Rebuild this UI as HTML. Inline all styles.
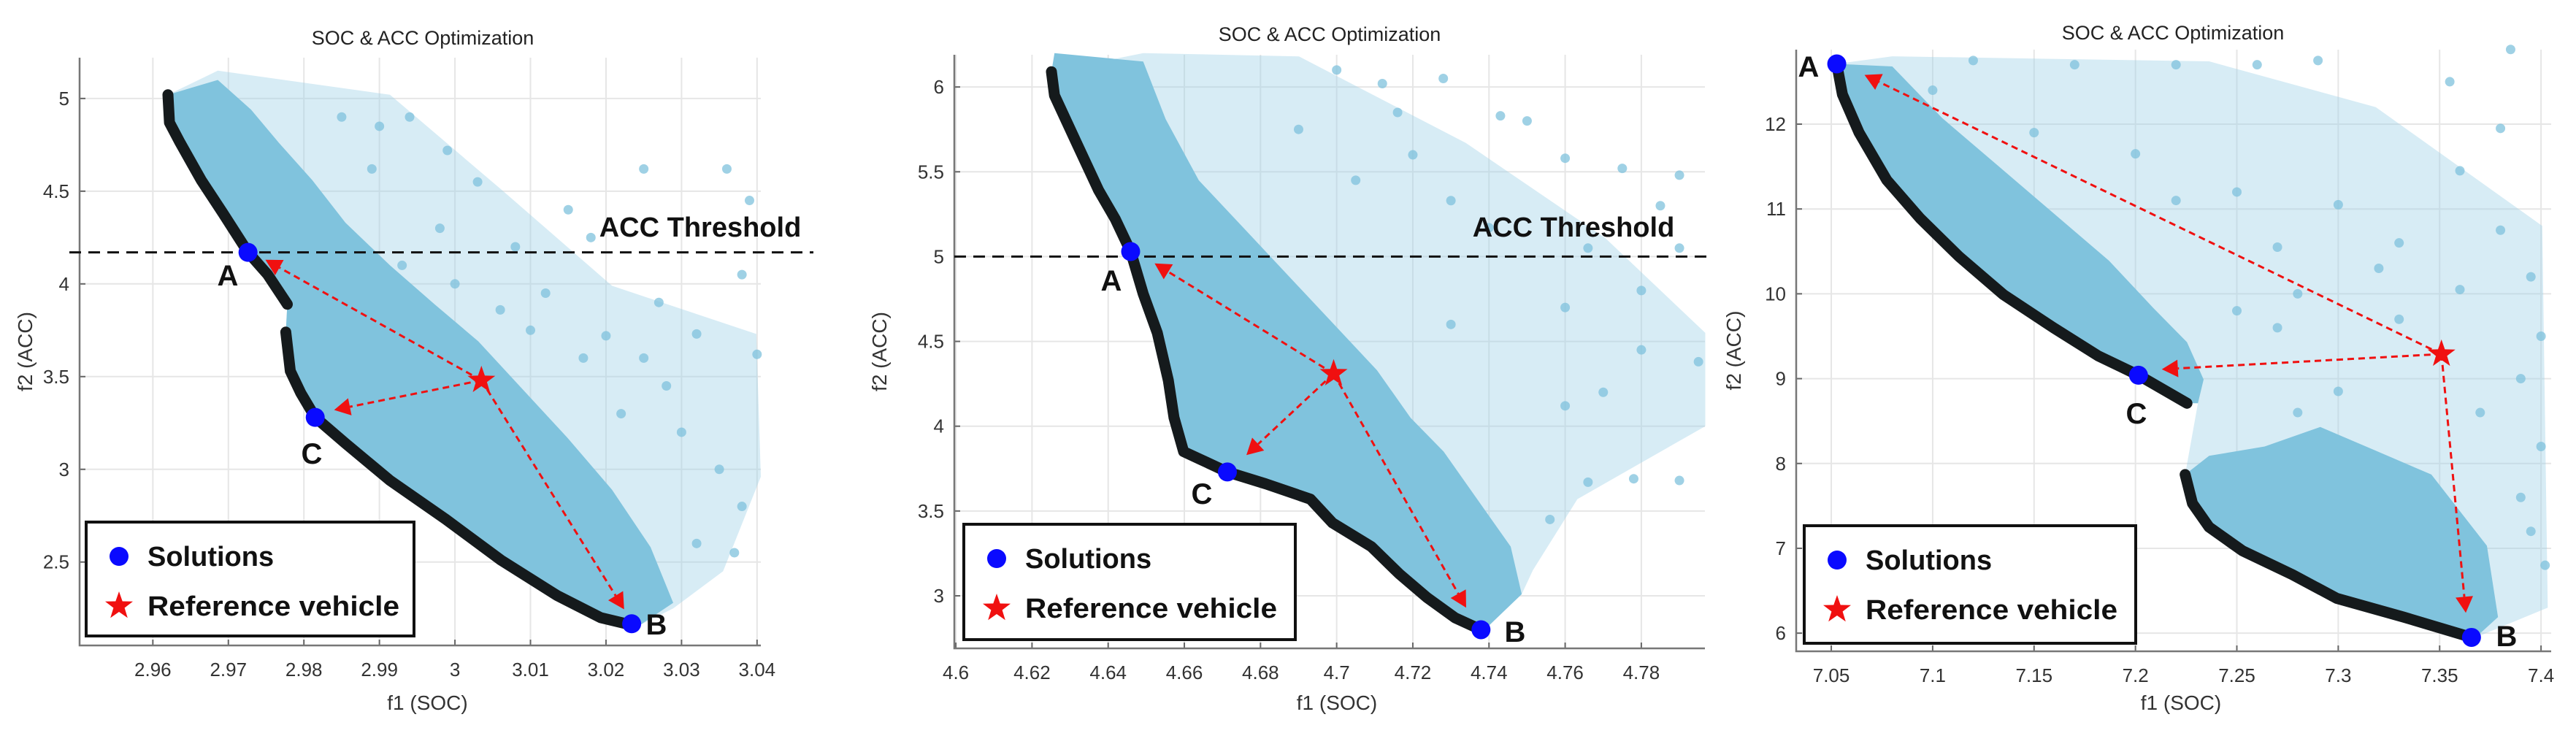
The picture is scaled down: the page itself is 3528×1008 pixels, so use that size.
<!DOCTYPE html>
<html><head><meta charset="utf-8">
<style>
html,body{margin:0;padding:0;background:#fff;}
svg{display:block;font-family:"Liberation Sans",sans-serif;}
</style></head>
<body>
<svg id="fig" width="3528" height="1008" viewBox="0 0 3528 1008" xmlns="http://www.w3.org/2000/svg"></svg>
<script>
// ---------- Panel 1 data ----------
const p1XTicks=[2.96,2.97,2.98,2.99,3,3.01,3.02,3.03,3.04];
const p1YTicks=[2.5,3,3.5,4,4.5,5];
const p1Front1=[[2.962,5.02],[2.9622,4.87],[2.9635,4.77],[2.9664,4.56],[2.9693,4.38],[2.9726,4.17],[2.9752,4.05],[2.9778,3.89]];
const p1Front2=[[2.9776,3.74],[2.9782,3.53],[2.9796,3.41],[2.9815,3.28],[2.9855,3.14],[2.9914,2.94],[2.9988,2.73],[3.0061,2.51],[3.0135,2.32],[3.0193,2.2],[3.0234,2.16]];
const p1DenseTop=[[2.962,5.02],[2.9686,5.10],[2.973,4.94],[2.9767,4.76],[2.9811,4.56],[2.9855,4.33],[2.9914,4.10],[2.9973,3.89],[3.0031,3.69],[3.009,3.43],[3.0149,3.17],[3.0208,2.89],[3.0259,2.58],[3.0289,2.28],[3.0245,2.16]];
const p1LightTop=[[2.962,5.02],[2.9686,5.15],[2.9914,5.02],[3.0061,4.51],[3.0208,3.99],[3.0399,3.73],[3.0405,2.96],[3.0355,2.45],[3.0289,2.25],[3.0245,2.16]];
const p1Sparse=[[2.99,4.85],[2.994,4.9],[2.999,4.72],[2.989,4.62],[3.003,4.55],[3.008,4.2],[3.015,4.4],[3.018,4.25],[3.025,4.62],[3.036,4.62],[3.039,4.45],[3.038,4.05],[3.04,3.62],[3.032,3.73],[3.025,3.6],[3.02,3.72],[3.012,3.95],[3.006,3.86],[3.03,3.2],[3.035,3.0],[3.038,2.8],[3.032,2.6],[3.037,2.55],[3.028,3.45],[3.022,3.3],[3.017,3.6],[3.01,3.75],[2.998,4.3],[2.985,4.9],[2.993,4.1],[3.0,4.0],[3.027,3.9]];
const p1Sol=[[2.9726,4.17,"A"],[3.0234,2.167,"B"],[2.9815,3.28,"C"]];
const p1Star=[3.0035,3.48];
const p1Heads=[[2.9749,4.13],[3.0224,2.245],[2.984,3.32]];
const p1Threshold=4.17;
// ---------- Panel 2 data ----------
const p2XTicks=[4.6,4.62,4.64,4.66,4.68,4.7,4.72,4.74,4.76,4.78];
const p2YTicks=[3,3.5,4,4.5,5,5.5,6];
const p2Front1=[[4.6251,6.09],[4.6259,5.95],[4.6317,5.67],[4.6375,5.39],[4.6419,5.22],[4.6459,5.03],[4.6492,4.78],[4.6529,4.55],[4.6558,4.27],[4.6573,4.05],[4.6598,3.85],[4.6713,3.73],[4.6814,3.66],[4.6931,3.57],[4.6989,3.43],[4.7091,3.29],[4.7164,3.13],[4.7237,2.99],[4.7311,2.87],[4.7379,2.80]];
const p2DenseTop=[[4.6251,6.09],[4.6259,6.20],[4.6492,6.15],[4.6551,5.81],[4.6638,5.45],[4.6755,5.17],[4.6872,4.89],[4.6989,4.61],[4.7106,4.33],[4.7194,4.05],[4.7281,3.85],[4.7369,3.57],[4.7457,3.29],[4.7486,3.01],[4.7398,2.82]];
const p2LightTop=[[4.6251,6.09],[4.6492,6.2],[4.6901,6.18],[4.7339,5.67],[4.7705,5.11],[4.7968,4.55],[4.7968,4.0],[4.7632,3.57],[4.7515,3.15],[4.7486,3.01],[4.7398,2.82]];
const p2Sparse=[[4.7,6.1],[4.712,6.02],[4.728,6.05],[4.716,5.85],[4.743,5.83],[4.75,5.8],[4.76,5.58],[4.775,5.52],[4.79,5.48],[4.785,5.3],[4.73,5.33],[4.74,5.17],[4.766,5.05],[4.79,5.05],[4.78,4.8],[4.795,4.38],[4.78,4.45],[4.77,4.2],[4.76,4.12],[4.79,3.68],[4.778,3.69],[4.766,3.67],[4.756,3.45],[4.72,5.6],[4.705,5.45],[4.69,5.75],[4.73,4.6],[4.76,4.7]];
const p2Sol=[[4.6459,5.03,"A"],[4.7379,2.80,"B"],[4.6713,3.73,"C"]];
const p2Star=[4.6992,4.31];
const p2Heads=[[4.6522,4.96],[4.734,2.93],[4.6763,3.83]];
const p2Threshold=5.0;
// ---------- Panel 3 data ----------
const p3XTicks=[7.05,7.1,7.15,7.2,7.25,7.3,7.35,7.4];
const p3YTicks=[6,7,8,9,10,11,12];
const p3Front1=[[7.0527,12.71],[7.0555,12.35],[7.0637,11.90],[7.0774,11.34],[7.0938,10.89],[7.113,10.44],[7.1349,9.99],[7.1596,9.60],[7.1815,9.27],[7.2015,9.04],[7.2254,8.71]];
const p3Front2=[[7.2245,7.87],[7.2281,7.53],[7.2363,7.25],[7.2528,6.97],[7.2774,6.69],[7.2993,6.41],[7.3322,6.19],[7.3657,5.95]];
const p3DenseTop=[[7.0527,12.71],[7.0801,12.68],[7.1048,12.07],[7.1322,11.51],[7.1596,10.95],[7.187,10.39],[7.2089,9.83],[7.2254,9.43],[7.2336,8.99],[7.2308,8.71],[7.2254,8.71]];
const p3Dense2Top=[[7.2245,7.87],[7.2363,8.09],[7.2637,8.20],[7.2911,8.43],[7.3185,8.15],[7.3459,7.87],[7.3733,7.03],[7.3788,6.19],[7.3678,5.95]];
const p3LightTop=[[7.0527,12.71],[7.0801,12.8],[7.2363,12.74],[7.3185,12.2],[7.4006,10.8],[7.4033,6.3],[7.3678,5.95]];
const p3Sparse=[[7.12,12.75],[7.17,12.7],[7.22,12.7],[7.26,12.7],[7.29,12.75],[7.385,12.88],[7.355,12.5],[7.38,11.95],[7.36,11.45],[7.3,11.05],[7.33,10.6],[7.27,10.55],[7.25,11.2],[7.2,11.65],[7.22,11.1],[7.28,10.0],[7.32,10.3],[7.38,10.75],[7.395,10.2],[7.4,9.5],[7.39,9.0],[7.37,8.6],[7.4,8.2],[7.39,7.6],[7.3,8.85],[7.27,9.6],[7.25,9.8],[7.33,9.7],[7.36,10.05],[7.15,11.9],[7.1,12.4],[7.395,7.2],[7.402,6.8],[7.28,8.6]];
const p3Sol=[[7.0527,12.71,"A"],[7.3657,5.95,"B"],[7.2015,9.04,"C"]];
const p3Star=[7.3509,9.29];
const p3Heads=[[7.0664,12.58],[7.3629,6.24],[7.213,9.11]];
const p3Threshold=null;

const NS="http://www.w3.org/2000/svg";
const svg=document.getElementById('fig');
function mk(tag,attrs,parent){const e=document.createElementNS(NS,tag);for(const k in attrs)e.setAttribute(k,attrs[k]);(parent||svg).appendChild(e);return e;}
function starPts(cx,cy,R,r){let s=[];for(let i=0;i<10;i++){const a=-Math.PI/2+i*Math.PI/5;const rr=i%2?r:R;s.push((cx+rr*Math.cos(a)).toFixed(1)+","+(cy+rr*Math.sin(a)).toFixed(1));}return s.join(" ");}

const p1Full=p1Front1.concat(p1Front2);
const p3Full=p3Front1.concat([[7.2308,8.71]],p3Front2);
const panels=[
 {id:1,L:109,R:1042,T:79,B:884,x0:2.9503,x1:3.0405,y0:2.05,y1:5.22,xt:p1XTicks,yt:p1YTicks,fronts:[p1Front1,p1Front2],dense:[[p1DenseTop,p1Full]],light:[p1LightTop,p1Full],sparse:p1Sparse,sol:p1Sol,star:p1Star,heads:p1Heads,thr:p1Threshold,thrX:[95,1114],thrText:[959,310],title:[579,52],ylab:34,leg:[118,715,567,871],labels:{A:[312,377],B:[899,855],C:[427,621]}},
 {id:2,L:1307,R:2335,T:75,B:888,x0:4.5996,x1:4.7967,y0:2.69,y1:6.19,xt:p2XTicks,yt:p2YTicks,fronts:[p2Front1],dense:[[p2DenseTop,p2Front1]],light:[p2LightTop,p2Front1],sparse:p2Sparse,sol:p2Sol,star:p2Star,heads:p2Heads,thr:p2Threshold,thrX:[1307,2339],thrText:[2155,310],title:[1821,47],ylab:1204,leg:[1320,718,1774,876],labels:{A:[1522,384],B:[2075,865],C:[1646,676]}},
 {id:3,L:2460,R:3494,T:68,B:892,x0:7.0327,x1:7.405,y0:5.786,y1:12.878,xt:p3XTicks,yt:p3YTicks,fronts:[p3Front1,p3Front2],dense:[[p3DenseTop,p3Front1],[p3Dense2Top,p3Front2]],light:[p3LightTop,p3Full],sparse:p3Sparse,sol:p3Sol,star:p3Star,heads:p3Heads,thr:p3Threshold,title:[2976,45],ylab:2374,leg:[2471,720,2925,881],labels:{A:[2477,91],B:[3433,871],C:[2926,566]}}
];

panels.forEach(p=>{
 const sx=v=>p.L+(v-p.x0)/(p.x1-p.x0)*(p.R-p.L);
 const sy=v=>p.B-(v-p.y0)/(p.y1-p.y0)*(p.B-p.T);
 const g=mk('g',{});
 
 
 p.xt.forEach(t=>{const l=mk('line',{x1:sx(t),x2:sx(t),y1:p.T,y2:p.B,stroke:'#e6e6e6','stroke-width':2},g);
  
  
  const tx=mk('text',{x:sx(t),y:p.B+42,'text-anchor':'middle','font-size':26,fill:'#333'},g);tx.textContent=String(t);
  
  
  mk('line',{x1:sx(t),x2:sx(t),y1:p.B,y2:p.B-8,stroke:'#666','stroke-width':2},g);});
 p.yt.forEach(t=>{const l=mk('line',{x1:p.L,x2:p.R,y1:sy(t),y2:sy(t),stroke:'#e6e6e6','stroke-width':2},g);
  
  
  const tx=mk('text',{x:p.L-14,y:sy(t)+9,'text-anchor':'end','font-size':26,fill:'#333'},g);tx.textContent=String(t);
  
  
  mk('line',{x1:p.L,x2:p.L+8,y1:sy(t),y2:sy(t),stroke:'#666','stroke-width':2},g);});
 const pts=a=>a.map(d=>sx(d[0]).toFixed(1)+","+sy(d[1]).toFixed(1)).join(" ");
 const lp=mk('polygon',{points:pts(p.light[0].concat(p.light[1].slice().reverse())),fill:'#9fd2e6','fill-opacity':0.42},g);
 
 
 p.sparse.forEach(d=>{const c=mk('circle',{cx:sx(d[0]),cy:sy(d[1]),r:6.5,fill:'#7fc1dc','fill-opacity':0.75},g);
  
  });
 p.dense.forEach(dd=>{const dp=mk('polygon',{points:pts(dd[0].concat(dd[1].slice().reverse())),fill:'#80c3dd'},g);
  
  });
 p.fronts.forEach(f=>{const pl=mk('polyline',{points:pts(f),fill:'none',stroke:'#151a1c','stroke-width':15,'stroke-linecap':'round','stroke-linejoin':'round'},g);
  
  });
 const ax=mk('path',{d:`M${p.L},${p.T} L${p.L},${p.B} L${p.R},${p.B}`,fill:'none',stroke:'#777','stroke-width':2.5},g);
 
 
 if(p.thr!==null){
  const th=mk('line',{x1:p.thrX[0],x2:p.thrX[1],y1:sy(p.thr),y2:sy(p.thr),stroke:'#111','stroke-width':3,'stroke-dasharray':'16,10'},g);
  
  
  const tt=mk('text',{x:p.thrText[0],y:p.thrText[1]+14,'text-anchor':'middle','font-size':38,'font-weight':'bold',fill:'#111'},g);tt.textContent='ACC Threshold';
  
  
 }
 const stX=sx(p.star[0]),stY=sy(p.star[1]);
 p.heads.forEach(h=>{const hx=sx(h[0]),hy=sy(h[1]);const a=Math.atan2(hy-stY,hx-stX);
  const bx=hx-22*Math.cos(a),by=hy-22*Math.sin(a);
  const ln=mk('line',{x1:stX,y1:stY,x2:bx,y2:by,stroke:'#f01010','stroke-width':3,'stroke-dasharray':'9,6'},g);
  
  
  const px=-Math.sin(a)*12,py=Math.cos(a)*12;
  mk('polygon',{points:`${hx},${hy} ${bx+px},${by+py} ${bx-px},${by-py}`,fill:'#f01010'},g);});
 const st=mk('polygon',{points:starPts(stX,stY,20,8),fill:'#f01010'},g);
 
 
 p.sol.forEach(s=>{const c=mk('circle',{cx:sx(s[0]),cy:sy(s[1]),r:13,fill:'#0a0aff'},g);
  
  
  const lb=p.labels[s[2]];const t=mk('text',{x:lb[0],y:lb[1]+14,'text-anchor':'middle','font-size':40,'font-weight':'bold',fill:'#111'},g);t.textContent=s[2];
  
  });
 const ti=mk('text',{x:p.title[0],y:p.title[1]+9,'text-anchor':'middle','font-size':27,fill:'#222'},g);ti.textContent='SOC & ACC Optimization';
 
 
 const xl=mk('text',{x:(p.L+p.R)/2+10,y:972,'text-anchor':'middle','font-size':28,fill:'#333'},g);xl.textContent='f1 (SOC)';
 
 
 const ym=(p.T+p.B)/2;
 const yl=mk('text',{x:p.ylab,y:ym,'text-anchor':'middle','font-size':28,fill:'#333',transform:`rotate(-90 ${p.ylab} ${ym})`,dy:10},g);yl.textContent='f2 (ACC)';
 
 
 const [lx,ly,rx,by]=p.leg;
 const lg=mk('g',{},g);
 
 
 mk('rect',{x:lx,y:ly,width:rx-lx,height:by-ly,fill:'#fff',stroke:'#111','stroke-width':4},lg);
 const e1=mk('circle',{cx:lx+45,cy:ly+47,r:13,fill:'#0a0aff'},lg);
 
 
 const t1=mk('text',{x:lx+84,y:ly+60,'font-size':38,'font-weight':'bold',fill:'#111'},lg);t1.textContent='Solutions';
 
 
 const e2=mk('polygon',{points:starPts(lx+45,ly+115,20,8),fill:'#f01010'},lg);
 
 
 const t2=mk('text',{x:lx+84,y:ly+128,'font-size':38,'font-weight':'bold',fill:'#111',textLength:345,lengthAdjust:'spacingAndGlyphs'},lg);t2.textContent='Reference vehicle';
 
 
});
</script>
</body></html>
